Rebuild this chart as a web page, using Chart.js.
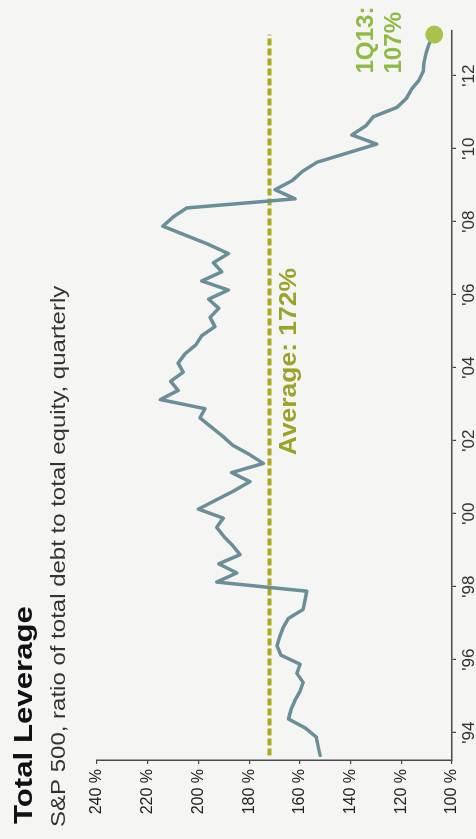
<!DOCTYPE html>
<html>
<head>
<meta charset="utf-8">
<script src="https://cdn.jsdelivr.net/npm/chart.js@4.4.1/dist/chart.umd.min.js"></script>
<style>
  html, body { margin:0; padding:0; width:476px; height:839px; overflow:hidden; background:#f5f5f3; }
  #wrap { position:absolute; left:0; top:0; width:839px; height:476px;
          transform-origin:0 0; transform:translate(0px,839px) rotate(-90deg); }
  canvas { display:block; }
</style>
</head>
<body>
<div id="wrap"><canvas id="c" width="839" height="476"></canvas></div>
<script>
// ---- data ----
const quarters = [
  '2Q93','3Q93','4Q93',
  '1Q94','2Q94','3Q94','4Q94','1Q95','2Q95','3Q95','4Q95',
  '1Q96','2Q96','3Q96','4Q96','1Q97','2Q97','3Q97','4Q97',
  '1Q98','2Q98','3Q98','4Q98','1Q99','2Q99','3Q99','4Q99',
  '1Q00','2Q00','3Q00','4Q00','1Q01','2Q01','3Q01','4Q01',
  '1Q02','2Q02','3Q02','4Q02','1Q03','2Q03','3Q03','4Q03',
  '1Q04','2Q04','3Q04','4Q04','1Q05','2Q05','3Q05','4Q05',
  '1Q06','2Q06','3Q06','4Q06','1Q07','2Q07','3Q07','4Q07',
  '1Q08','2Q08','3Q08','4Q08','1Q09','2Q09','3Q09','4Q09',
  '1Q10','2Q10','3Q10','4Q10','1Q11','2Q11','3Q11','4Q11',
  '1Q12','2Q12','3Q12','4Q12','1Q13'
];
const leverage = [
  152, 152.8, 153.5,
  157.8, 164.5, 163.5, 162, 160, 158.7, 161.2, 159.9,
  167.5, 169, 168, 166.6, 164.6, 158.7, 158, 157.3,
  192.8, 184.9, 192, 183.6, 186.5, 190, 192.8, 190.2,
  200, 193, 186, 179.7, 186.9, 174.4, 180, 186.5,
  190.5, 195, 199.4, 197.4, 215, 208, 211, 206,
  208, 205.3, 201, 198.7, 193.5, 195.4, 192, 196,
  188.2, 198.7, 190.8, 194.1, 188.2, 196, 205, 214,
  210, 204.6, 161.9, 169.8, 163, 159, 153.3, 141.5,
  129.7, 139.5, 134, 131, 121.8, 118, 116, 113,
  111.3, 111, 110.2, 109, 107
];
const averageValue = 172;
const yTickValues = [100, 120, 140, 160, 180, 200, 220, 240];
const xTickYears = [1994, 1996, 1998, 2000, 2002, 2004, 2006, 2008, 2010, 2012];
const titleText = 'Total Leverage';
const subtitleText = 'S&P 500, ratio of total debt to total equity, quarterly';
const averageLabel = 'Average: 172%';
const lastLabel = ['1Q13:', '107%'];

// quarter label -> decimal year (quarter midpoint)
function qToYear(q) {
  const qi = parseInt(q[0], 10);
  const yy = parseInt(q.slice(2), 10);
  const yr = yy > 50 ? 1900 + yy : 2000 + yy;
  return yr + (qi - 0.5) / 4;
}
const points = quarters.map((q, i) => ({ x: qToYear(q), y: leverage[i] }));
const lastIdx = points.length - 1;
const avgPoints = [
  { x: points[0].x, y: averageValue },
  { x: points[lastIdx].x, y: averageValue }
];

const FONT = '"Liberation Sans", Arial, sans-serif';

function stretchedText(ctx, txt, x, y, font, color, sx) {
  ctx.save();
  ctx.font = font;
  ctx.fillStyle = color;
  ctx.textBaseline = 'alphabetic';
  ctx.textAlign = 'left';
  ctx.translate(x, y);
  ctx.scale(sx, 1);
  ctx.fillText(txt, 0, 0);
  ctx.restore();
}

const textPlugin = {
  id: 'texts',
  beforeDraw(chart) {
    const ctx = chart.ctx;
    ctx.save();
    ctx.fillStyle = '#f5f5f3';
    ctx.fillRect(0, 0, chart.width, chart.height);
    ctx.restore();
  },
  afterDraw(chart) {
    const ctx = chart.ctx;
    const xs = chart.scales.x, ys = chart.scales.y;
    stretchedText(ctx, titleText, 15, 32, 'bold 26px ' + FONT, '#111', 1.2);
    stretchedText(ctx, subtitleText, 12, 65, '20px ' + FONT, '#333', 1.2);
    // average label, under the dashed line
    const ay = ys.getPixelForValue(averageValue);
    stretchedText(ctx, averageLabel, xs.getPixelForValue(2001.6), ay + 27, 'bold 23px ' + FONT, '#9aa32a', 1.15);
    // last value label
    const lx = xs.getPixelForValue(points[lastIdx].x) - 39;
    const ly = ys.getPixelForValue(leverage[lastIdx]);
    stretchedText(ctx, lastLabel[0], lx, ly - 61, 'bold 23px ' + FONT, '#8fbb45', 1.05);
    stretchedText(ctx, lastLabel[1], lx, ly - 33, 'bold 23px ' + FONT, '#8fbb45', 1.05);
  }
};

new Chart(document.getElementById('c'), {
  type: 'line',
  data: {
    datasets: [
      {
        label: 'Total leverage',
        data: points,
        borderColor: '#6b8f98',
        borderWidth: 3.5,
        borderJoinStyle: 'round',
        borderCapStyle: 'round',
        tension: 0,
        pointRadius: points.map((p, i) => i === lastIdx ? 9 : 0),
        pointBackgroundColor: '#a7c34c',
        pointBorderColor: '#a7c34c',
        pointBorderWidth: 0,
        order: 1,
        clip: false
      },
      {
        label: 'Average',
        data: avgPoints,
        borderColor: '#abaa1e',
        borderWidth: 4,
        borderDash: [7, 3],
        pointRadius: 0,
        tension: 0,
        order: 2
      }
    ]
  },
  options: {
    responsive: false,
    animation: false,
    events: [],
    layout: { padding: { left: 0, right: 30, top: 97, bottom: 0 } },
    plugins: { legend: { display: false }, tooltip: { enabled: false }, title: { display: false } },
    scales: {
      x: {
        type: 'linear',
        min: 1993.25,
        max: 2013.25,
        afterBuildTicks: (s) => { s.ticks = xTickYears.map(v => ({ value: v })); },
        afterFit: (s) => { s.height = 24; },
        ticks: {
          autoSkip: false, maxRotation: 0, padding: 3,
          color: '#333', font: { family: FONT, size: 17 },
          callback: (v) => "'" + String(v).slice(2)
        },
        grid: { display: true, drawOnChartArea: false, drawTicks: true, tickLength: 4, color: '#444', lineWidth: 1.2 },
        border: { display: true, color: '#4a4a4a', width: 1.5 }
      },
      y: {
        type: 'linear',
        min: 100,
        max: 240,
        afterBuildTicks: (s) => { s.ticks = yTickValues.map(v => ({ value: v })); },
        afterFit: (s) => { s.width = 79; },
        ticks: {
          padding: 5, color: '#222', font: { family: FONT, size: 16 },
          callback: (v) => v + ' %'
        },
        grid: { display: true, drawOnChartArea: false, drawTicks: true, tickLength: 4, color: '#444', lineWidth: 1.2 },
        border: { display: true, color: '#4a4a4a', width: 1.5 }
      }
    }
  },
  plugins: [textPlugin]
});
</script>
</body>
</html>
